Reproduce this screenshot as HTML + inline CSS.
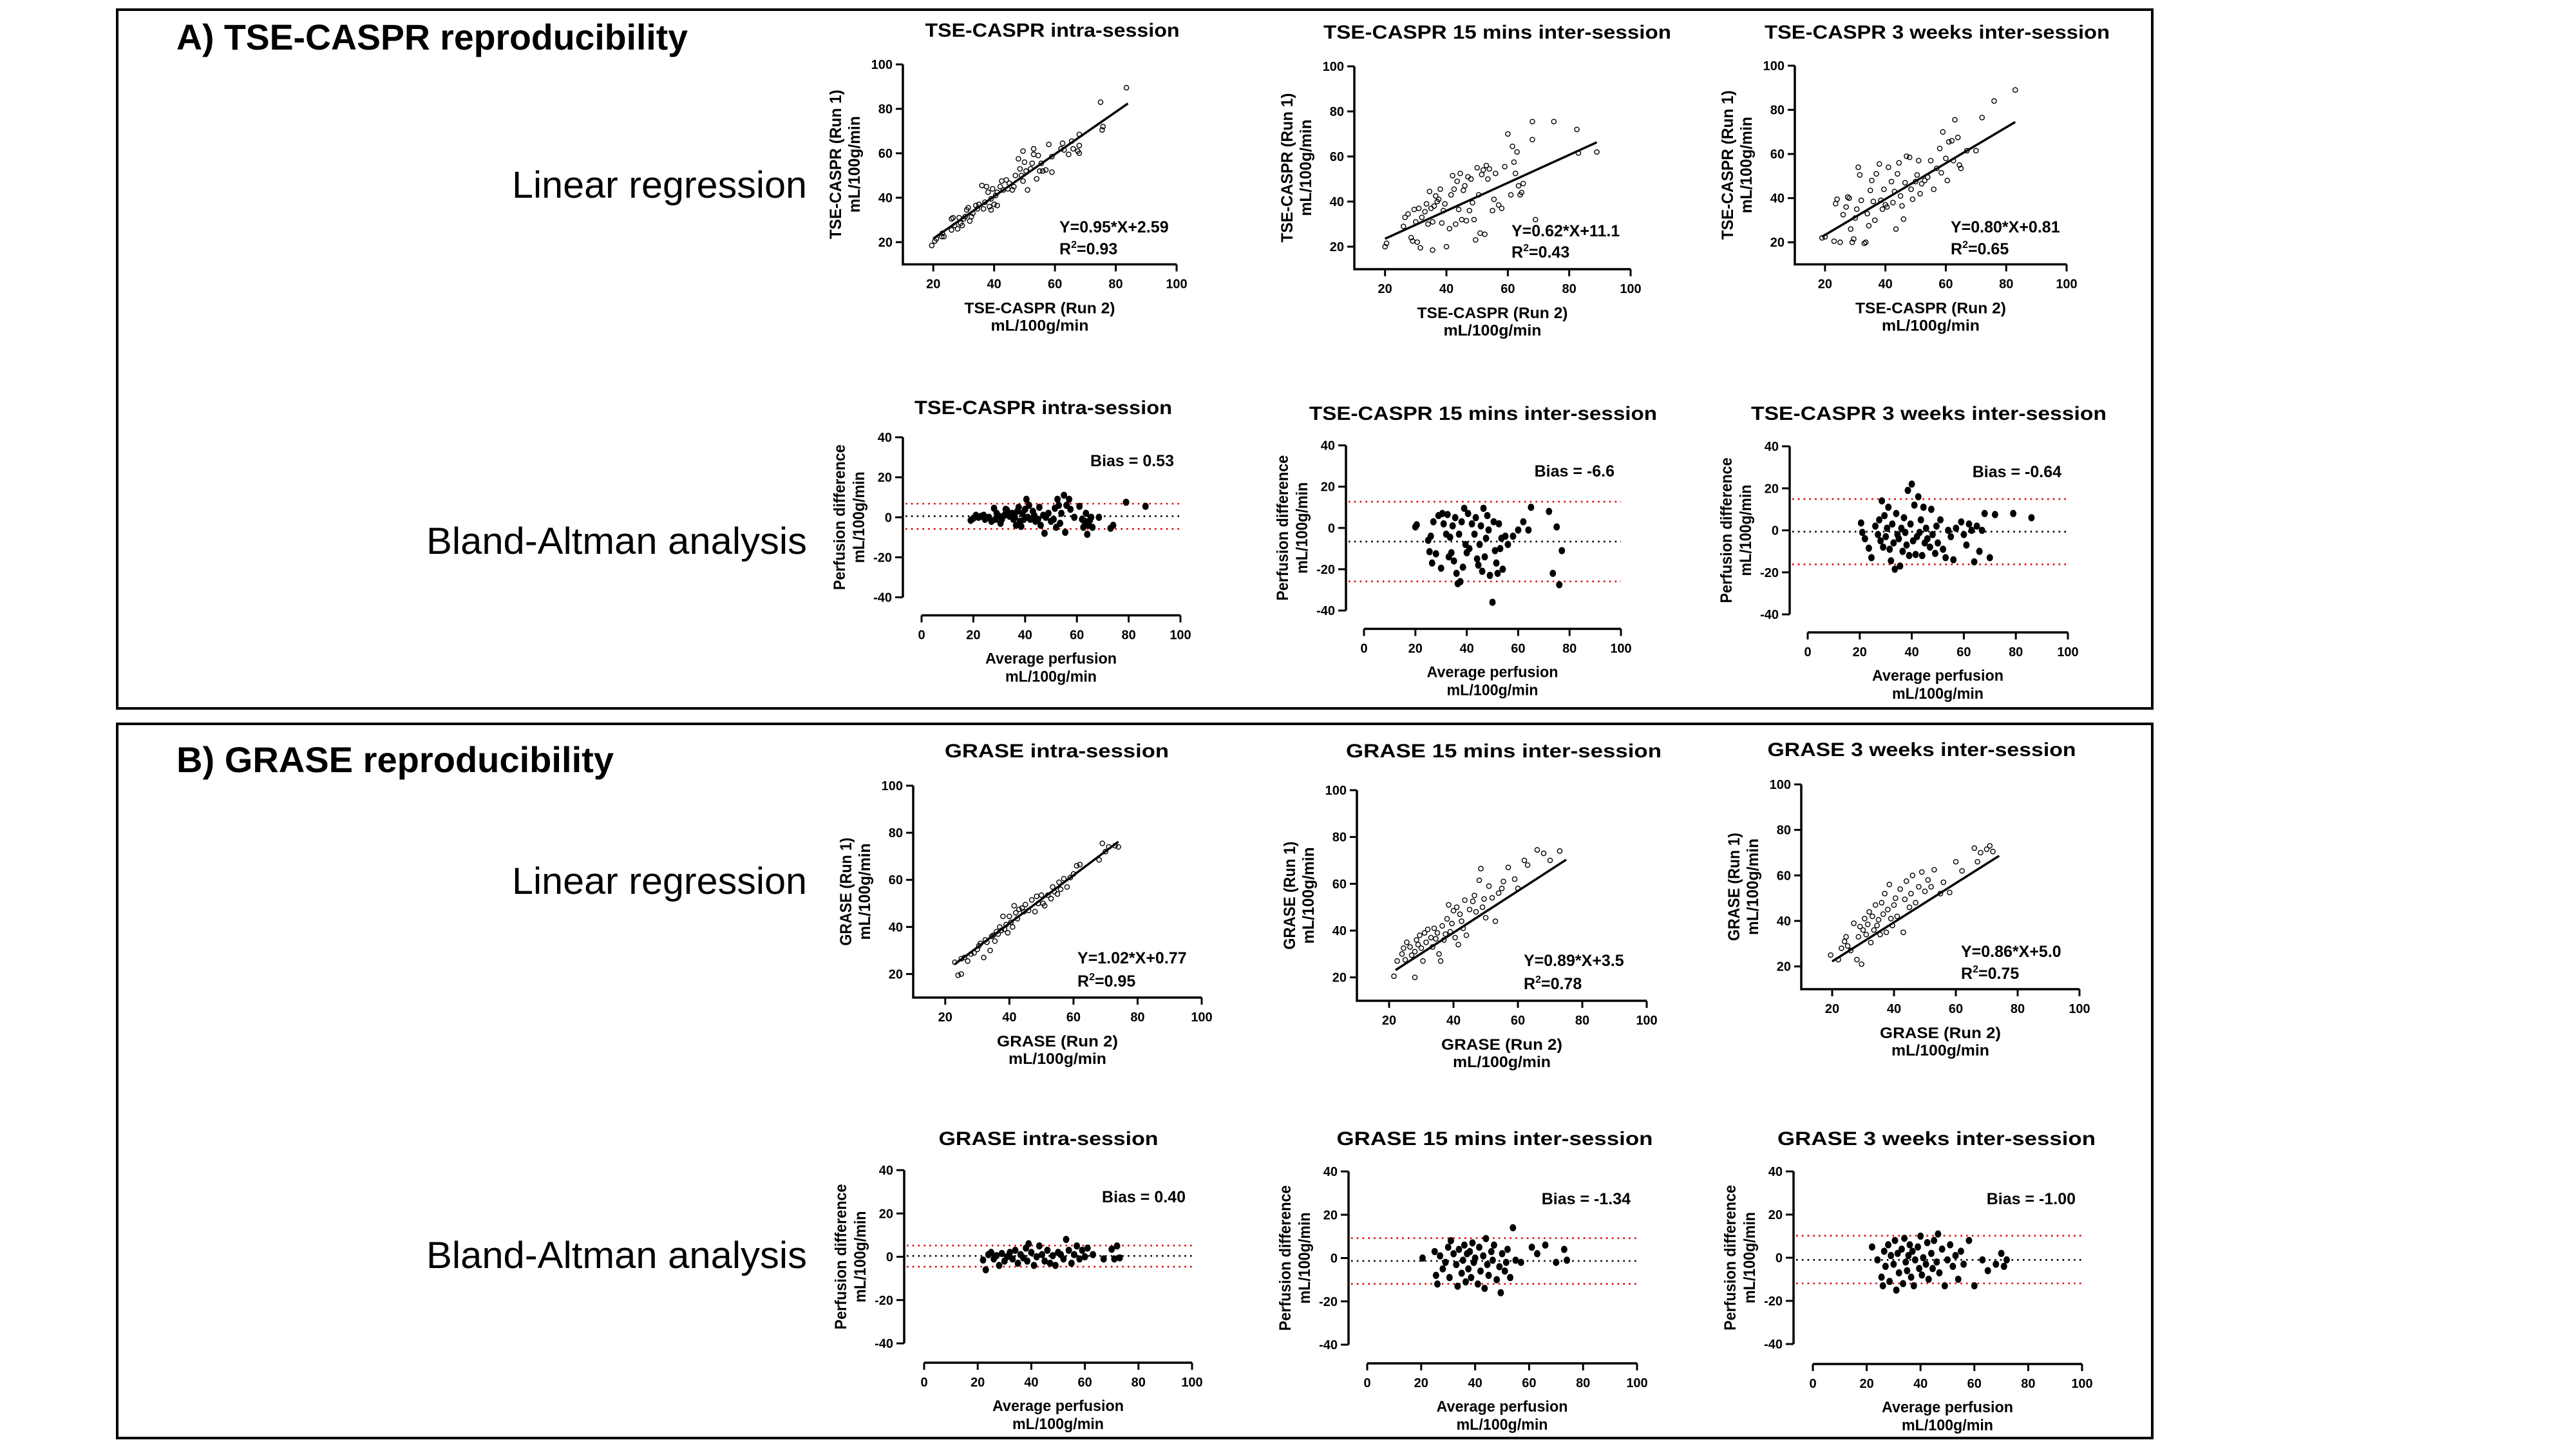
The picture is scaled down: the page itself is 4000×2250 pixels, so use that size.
<!DOCTYPE html>
<html>
<head>
<meta charset="utf-8">
<style>
html,body{margin:0;padding:0;background:#fff;}
svg{display:block;}
text{font-family:"Liberation Sans",Arial,sans-serif;}
</style>
</head>
<body>
<svg id="fig" width="4000" height="2250" viewBox="0 0 4000 2250" xmlns="http://www.w3.org/2000/svg">
<rect x="0" y="0" width="4000" height="2250" fill="#fff"/>
<rect x="182" y="15" width="3160" height="1085" fill="none" stroke="#000" stroke-width="4"/>
<rect x="182" y="1124" width="3160" height="1109" fill="none" stroke="#000" stroke-width="4"/>
<text x="274" y="77" font-size="56" font-weight="bold" textLength="794" lengthAdjust="spacingAndGlyphs">A) TSE-CASPR reproducibility</text>
<text x="274" y="1199" font-size="56" font-weight="bold" textLength="679" lengthAdjust="spacingAndGlyphs">B) GRASE reproducibility</text>
<text x="1253" y="307" font-size="58" text-anchor="end" textLength="458" lengthAdjust="spacingAndGlyphs">Linear regression</text>
<text x="1253" y="860" font-size="58" text-anchor="end" textLength="591" lengthAdjust="spacingAndGlyphs">Bland-Altman analysis</text>
<text x="1253" y="1388" font-size="58" text-anchor="end" textLength="458" lengthAdjust="spacingAndGlyphs">Linear regression</text>
<text x="1253" y="1969" font-size="58" text-anchor="end" textLength="591" lengthAdjust="spacingAndGlyphs">Bland-Altman analysis</text>
</svg>
<script>
// ---------- DATA ----------
const scatterTicks = [20,40,60,80,100];
const baYTicks = [-40,-20,0,20,40];
const baXTicks = [0,20,40,60,80,100];
const regSlopeLabel = ["0.95","0.62","0.80","1.02","0.89","0.86"];
const regInterceptLabel = ["2.59","11.1","0.81","0.77","3.5","5.0"];
const r2Label = ["0.93","0.43","0.65","0.95","0.78","0.75"];
const regXRange = [[20,84],[20,89],[19,83],[23,74],[22,75],[20,74]];
const regLineStartY = [21.6,23.5,22.5,24.2,23.1,22.2];
const regLineEndY = [82.4,66.3,74.5,76.2,70.3,68.6];
const biasVals = [0.53,-6.6,-0.64,0.40,-1.34,-1.00];
const biasLabel = ["0.53","-6.6","-0.64","0.40","-1.34","-1.00"];
const loaUpper = [6.8,12.7,14.9,5.2,9.2,10.2];
const loaLower = [-5.8,-25.9,-16.2,-4.6,-11.9,-11.9];

const a1x=[19.5,20.5,21,22.8,23,23.5,26,26.5,26,27,28,28.5,29,29.5,30,30.5,31,31.5,32,32.5,33,34,34.5,35,36,36.5,37,37.5,38,38.5,39,39,39.5,40,40.5,41,41,42,42.5,43,44,44.5,45,46,46.5,47,48,48.5,49,49.5,49.5,50,50.5,51,52,52.5,53,53,54,54.5,55,55.5,56,57,58,59,59,62,62.5,63,64.5,65.5,66,67.5,68,68,68,75,75.5,75.8,83.5];
const a1y=[18.5,20.5,21.5,22.5,24,22.5,30.5,31,25.5,27.5,26,31,28.5,27.5,30.5,31.5,34.5,35.5,29.5,31.5,33,36.5,35,37,45.5,35,38,45,42.5,36,34.5,39.5,44,37,41,42.5,36.5,45,47.5,43.5,48,44,46.5,43.5,45,50,57.5,53,50,47.5,61,56,52,43.5,53,55.5,62,59.5,48.5,59,52,55.5,52,52.5,64,51.5,58.5,62,64.5,61.5,59.5,65.5,62,61,60,68.5,63.5,83,70.5,72,89.5];
const a2x=[20,20.5,26,26.5,27.5,28.5,29,29.5,30,30.5,31,31.5,32,33,33.5,34,34.5,35,35.5,35.5,36,36.5,37,37.5,38,38.5,39,39.5,40,41,41.5,42,42.5,43,43.5,44,44.5,45,45.5,46,46.5,47,47.5,48,48.5,49,49.5,50,50.5,51,51.5,52,52.5,53,53.5,54,55,55.5,56,57,58,59,60,61,61.5,62,62.5,63,63.5,64,64.5,65,68,68,69,75,82.5,83,89];
const a2y=[20,21.5,29,33,34.5,24,22.5,36.5,31,22,37,19.5,33,35.5,39,30,44.5,37,31,18.5,38,42.5,40,41,45.5,30.5,36,39,20,28,43,51.5,45.5,30,49,36.5,52.5,32,45,47,31.5,51,36,50,39.5,32,23,55,43,26,52,54,25.5,56,50,54.5,36,41,52.5,38.5,37,55.5,70,43,64.5,57.5,52.5,62,47,43,44,48,75.5,67.5,32,75.5,72,61.5,62];
const a3x=[19,20,23,23.5,24,25,26,27,27.5,28,28.5,29,29.5,30,30.5,31,31.5,32,33,33.5,34,34.5,35,35.5,36,36.5,37,38,38.5,39,39.5,40,40.5,41,42,42.5,43,43.5,44,44.5,45,45.5,46,46.5,47,48,48.5,49,50,50.5,51,51.5,52,53,54,55,56,57,58,58.5,59,60,60.5,61,62,62.5,63,64,64.5,65,67,70,72,76,83];
const a3y=[22,22.5,20.5,37.5,39.5,20,32.5,36,40.5,40,26,20,21.5,31,35,54,50.5,39,19.5,20,33,27.5,43.5,48,38.5,30,51,55.5,39,35,44,37,36,54,47.5,38,43,26,51,56,41,36.5,30.5,47,59,58.5,44,39.5,47.5,50.5,57,42,46.5,48,49.5,57,44,53.5,62.5,51.5,70,58,48,65.5,66,57,75.5,67.5,55,53.5,61.5,61.5,76.5,84,89];
const b1x=[23,24,25,25,26,27,28,29,30,30.5,31,32,32.5,33,34,34.5,35,35.5,36,36.5,37,37.5,38,38.5,39,39.5,40,40.5,41,41.5,42,42.5,43,44,44.5,45,46,47,48,48.5,49,50,50.5,51,52,53,53.5,54,55,55.5,56,57,58,59,60,61,62,68,69,70,71,73,74];
const b1y=[25,19.5,20,26.5,27,25.5,28.5,29,30.5,32,33,27,34.5,33.5,30,36,36.5,34,38,37,40,38.5,44.5,39,41,37.5,44.5,42,40,49,46,43.5,47.5,48,46.5,49.5,47,51.5,46.5,53,50,53.5,50,49,53.5,52,57,55,54,59,56,60.5,57,61,62.5,66,66.5,68.5,75.5,72,74,74.5,74];
const b2x=[21.5,22.5,24,24.5,25,25.5,26.5,27,28,28,28.5,29,29.5,30,30.5,31,31.5,32,33,33.5,34,34.5,35,35.5,36,36.5,37,37.5,38,38.5,39,39.5,40,40.5,41,41.5,42,42.5,43,43.5,44,45,46,46.5,47,48,48.5,49,49.5,50,51,52,53,54,55,55.5,57,59,60,62,63,66,68,70,73];
const b2y=[20.5,27,30,32.5,27.5,35,33,29.5,31,20,36,34,38,32.5,27,39,35,40.5,37,33,41,36.5,39,30,27,42,36,38.5,45,51,39.5,43,48.5,37,50,34,47,44,41,53,38,49,52.5,55,48,61.5,66.5,50,53.5,45.5,59,54,44,56,58,61,67,62,58,70,68,74.5,73,70,74];
const b3x=[19.5,22,23,24,24.5,25,26,27,28,28.5,29,29.5,30,30.5,31,31.5,32,32.5,33,33.5,34,34.5,35,35.5,36,36.5,37,37.5,38,38.5,39,39.5,40,40.5,41,42,43,43.5,44,45,45.5,46,47,48,49,50,51,52,53,55,56,58,60,62,66,67,68,70,71,72];
const b3y=[25,23,28,31,33,29,27,39,23,33,37.5,21,36,41,34,38.5,44,30.5,42,36,47,38,40.5,34,48,43,52,35,45,56,41,38,47,50,42,54,35,49.5,57.5,46,52,60,48,55,61.5,53,58,55,62.5,52,57,52.5,66,62,72,66,70,71.5,73,70.5];

const ba1x=[19,20,21,22,23,24,24.5,26,27,28,28.5,29,30,30.5,31,32,32.5,33,34,35,35.5,36,36.5,37,37.5,38,38.5,39,39.5,40,40.5,41,41.5,42,43,43.5,44,45,45.5,46,47,47.5,48,49,50,51,51.5,52,52.5,53,53.5,54,55,55.5,56,57,57.5,59,61,62,62.5,63,63.5,64,64.5,65,65.5,66,68.5,73,74,79,86.5];
const ba1y=[-1.5,-0.5,1,0,0.5,1,-1,0,-2,4.5,-1,2,0.5,-3,-1,1,4,3.5,0.5,2,-1,0,-4,3,5,-2,-4.5,2,-1,4,9,0,6,-1,3,1,-2,-1,5,-4,1,-8,0,2,-2,-1,4.5,-5,9,6,-3,2,11,-7.5,6,9,4,0,5.5,-1,-5,-2,2,-8.5,-4,-1.5,0,-5,0,-5.5,-4,7.5,5.5];
const ba2x=[20,20.5,25,25.5,26,26.5,27,28,29,30,30.5,31,32,32.5,33,33.5,34,34.5,35,35.5,36,36.5,37,37.5,38,38.5,39,39.5,40,40.5,41,42,43,43.5,44,44.5,45,45.5,46,46.5,47,47.5,48,48.5,49,50,50.5,51,51.5,52,52.5,53,53.5,54,55,56,58,60,62,64,65,72,73.5,75,76,77];
const ba2y=[0.5,1.5,-6,-11.5,-4,-17,3,-12.5,6,-19.5,7,2,-3,6.5,-14,-4.5,-12,1,-16,5,-22,-27,-3,-26,3,-19,9.5,-8,-12,7,-10,2,-3,5,-15,-18,-8,1,-21,9.5,-14,-5,6,-1,-23,-36,3,-11,-17,-22,2,-10,-5,-20,-4,-8,-4,-1,3,-1,10,8,-22,0.5,-27.5,-11];
const ba3x=[20.5,21,22,23.5,24.5,26,27,27.5,28,28.5,29,29.5,30,30.5,31,31.5,32,32.5,33,33.5,34,34.5,35,35.5,36,36.5,37,37.5,38,38.5,39,39.5,40,40.5,41,41.5,42,42.5,43,43.5,44,44.5,45,45.5,46,47,47.5,48,49,49.5,50,51,52,53,54,55,56,57,59,60,61,62,63,64,65,66,67,68,70,72,79,86];
const ba3y=[3.5,-1,-4,-8.5,-13,2,-2,5,-5,14,-8,7,-3,1,11,-9,-14.5,3,-6,-18.5,8,-2,-4,-17,1,-10,6,-1,-7,19,-12,3,22,-5,12,-11.5,-3,16,-1,5,-12,11,-6,1,-4,-8,10,-2,-11,2,-6,5,-9,-13,0,-3,-14,1,4,-2,-7,3,0,-15,2,-10,0,8,-13,7.5,8,6];
const bb1x=[22,23,24,25,26,27,28,29,30,31,32,33,34,35,36,37,38,38.5,39,40,41,42,43,44,45,46,47,48,49,50,51,52,53,54,55,56,57,58,59,60,61,63,67,70,71,72,73];
const bb1y=[-1.5,-6,1,2,-1,0.5,-4,1.5,-2,0,2,-1,3,-3,1,-0.5,4,-2,6,2,-4,0,5,1,-2,3,-3,0.5,-4,2,1,-1,8,3,-3,1,5,-1,3,0,4,1,-1,3.5,-1,5,-0.5];
const bb2x=[20.5,25,25.5,26,27,28,29,30,30.5,31,32,33,33.5,34,35,35.5,36,36.5,37,37.5,38,38.5,39,39.5,40,41,41.5,42,43,43.5,44,44.5,45,46,46.5,47,48,49,49.5,50,51,51.5,52,53,54,55,57,61,63,66,70,73,74];
const bb2y=[0,3,-8,-12,1,-5,-2,5,-9,8,2,-3,-13,4,-7,-1,6,-11,2,-5,3,-9,7,-2,0,-12,5,-6,1,-14,9,-3,-8,3,-1,6,-10,-4,-16,2,-6,-2,4,-9,14,-1,-2,5,2,6,-2,4,-1];
const bb3x=[22,24,25.5,26,26.5,27,28,28.5,29,30,30.5,31,31.5,32,33,33.5,34,34.5,35,35.5,36,36.5,37,37.5,38,39,39.5,40,40.5,41,42,42.5,43,44,44.5,45,46,46.5,47,48,49,50,51,52,53,54,55,56,58,60,63,65,68,70,71,72];
const bb3y=[5,-1,-9,-13,3,-4,6,-11,1,-3,8,-15,2,-7,4,-12,9,-2,-6,1,6,-9,3,-13,-1,5,-5,10,-8,0,-3,7,-10,2,-5,8,-2,11,-7,4,-13,-1,6,-4,1,-10,3,-3,8,-13,-1,-6,-3,2,-4,-1];

// ---------- LAYOUT ----------
const NS = "http://www.w3.org/2000/svg";
const svg = document.getElementById('fig');
function el(tag, attrs, parent){
  const e = document.createElementNS(NS, tag);
  for (const k in attrs) e.setAttribute(k, attrs[k]);
  (parent||svg).appendChild(e);
  return e;
}
function txt(parent, s, attrs){
  const t = el('text', attrs, parent);
  t.textContent = s;
  return t;
}

const scatterPanels = [
 {key:'a1',xs:a1x,ys:a1y,X0:1402,X1:1827,YB:410.5,YT:100,title:'TSE-CASPR intra-session',tx:1634,ty:57,tw:395,ylab:'TSE-CASPR (Run 1)',xlab:'TSE-CASPR (Run 2)',ex:1645,ey:361,ey2:395},
 {key:'a2',xs:a2x,ys:a2y,X0:2103,X1:2532,YB:418,YT:103,title:'TSE-CASPR 15 mins inter-session',tx:2325,ty:60,tw:540,ylab:'TSE-CASPR (Run 1)',xlab:'TSE-CASPR (Run 2)',ex:2347,ey:367,ey2:400},
 {key:'a3',xs:a3x,ys:a3y,X0:2787,X1:3209,YB:410.5,YT:102,title:'TSE-CASPR 3 weeks inter-session',tx:3008,ty:60,tw:536,ylab:'TSE-CASPR (Run 1)',xlab:'TSE-CASPR (Run 2)',ex:3029,ey:361,ey2:395},
 {key:'b1',xs:b1x,ys:b1y,X0:1418,X1:1866,YB:1549,YT:1220,title:'GRASE intra-session',tx:1641,ty:1176,tw:348,ylab:'GRASE (Run 1)',xlab:'GRASE (Run 2)',ex:1673,ey:1496,ey2:1532},
 {key:'b2',xs:b2x,ys:b2y,X0:2107,X1:2557,YB:1554,YT:1227,title:'GRASE 15 mins inter-session',tx:2335,ty:1176,tw:490,ylab:'GRASE (Run 1)',xlab:'GRASE (Run 2)',ex:2366,ey:1500,ey2:1536},
 {key:'b3',xs:b3x,ys:b3y,X0:2797,X1:3229,YB:1536,YT:1218,title:'GRASE 3 weeks inter-session',tx:2984,ty:1174,tw:479,ylab:'GRASE (Run 1)',xlab:'GRASE (Run 2)',ex:3045,ey:1486,ey2:1520}
];
const baPanels = [
 {key:'a1',xs:ba1x,ys:ba1y,YA:1402,Y40:679,Ym40:927.5,XA:955.5,x0:1431,x100:1833,title:'TSE-CASPR intra-session',tx:1620,ty:643,tw:400,by:724},
 {key:'a2',xs:ba2x,ys:ba2y,YA:2090,Y40:691.6,Ym40:948,XA:976.5,x0:2118,x100:2517,title:'TSE-CASPR 15 mins inter-session',tx:2303,ty:652,tw:540,by:740},
 {key:'a3',xs:ba3x,ys:ba3y,YA:2779,Y40:693,Ym40:954,XA:982,x0:2807,x100:3211,title:'TSE-CASPR 3 weeks inter-session',tx:2995,ty:652,tw:552,by:741},
 {key:'b1',xs:bb1x,ys:bb1y,YA:1404,Y40:1817,Ym40:2086,XA:2116,x0:1435,x100:1851,title:'GRASE intra-session',tx:1628,ty:1778,tw:341,by:1867},
 {key:'b2',xs:bb2x,ys:bb2y,YA:2094,Y40:1819,Ym40:2088,XA:2117,x0:2123,x100:2542,title:'GRASE 15 mins inter-session',tx:2321,ty:1778,tw:491,by:1870},
 {key:'b3',xs:bb3x,ys:bb3y,YA:2785,Y40:1819,Ym40:2087,XA:2118,x0:2815,x100:3233,title:'GRASE 3 weeks inter-session',tx:3007,ty:1778,tw:494,by:1870}
];

scatterPanels.forEach((p, i) => {
  const g = el('g', {});
  
  
  const sx = v => p.X0 + (v - 10) / 90 * (p.X1 - p.X0);
  const sy = v => p.YB - (v - 10) / 90 * (p.YB - p.YT);
  const t = txt(g, p.title, {x:p.tx, y:p.ty, 'font-size':30, 'font-weight':'bold', 'text-anchor':'middle', textLength:p.tw, lengthAdjust:'spacingAndGlyphs'});
  
  
  const ax = el('path', {d:`M${p.X0},${sy(100)} L${p.X0},${p.YB} L${p.X1},${p.YB}`, fill:'none', stroke:'#000', 'stroke-width':3.5}, g);
  
  
  scatterTicks.forEach(v => {
    const ty = sy(v), tx = sx(v);
    el('line', {x1:p.X0-11, y1:ty, x2:p.X0, y2:ty, stroke:'#000', 'stroke-width':3}, g);
    const yl = txt(g, String(v), {x:p.X0-16, y:ty+7, 'font-size':20, 'font-weight':'bold', 'text-anchor':'end'});
    
    
    el('line', {x1:tx, y1:p.YB, x2:tx, y2:p.YB+11, stroke:'#000', 'stroke-width':3}, g);
    const xl = txt(g, String(v), {x:tx, y:p.YB+37, 'font-size':20, 'font-weight':'bold', 'text-anchor':'middle'});
    
    
  });
  const cy = (p.YB + sy(100)) / 2;
  const y1 = txt(g, p.ylab, {x:0, y:0, 'font-size':25, 'font-weight':'bold', 'text-anchor':'middle', transform:`translate(${p.X0-96},${cy}) rotate(-90)`, textLength: p.ylab.length > 14 ? 232 : 168, lengthAdjust:'spacingAndGlyphs'});
  
  
  const y2 = txt(g, 'mL/100g/min', {x:0, y:0, 'font-size':25, 'font-weight':'bold', 'text-anchor':'middle', transform:`translate(${p.X0-67},${cy}) rotate(-90)`, textLength:150, lengthAdjust:'spacingAndGlyphs'});
  
  
  const xc = (p.X0 + p.X1) / 2;
  const x1t = txt(g, p.xlab, {x:xc, y:p.YB+76, 'font-size':24, 'font-weight':'bold', 'text-anchor':'middle', textLength: p.xlab.length > 14 ? 234 : 188, lengthAdjust:'spacingAndGlyphs'});
  
  
  const x2t = txt(g, 'mL/100g/min', {x:xc, y:p.YB+103, 'font-size':24, 'font-weight':'bold', 'text-anchor':'middle', textLength:152, lengthAdjust:'spacingAndGlyphs'});
  
  
  p.xs.forEach((xv, j) => {
    const c = el('circle', {cx:sx(xv), cy:sy(p.ys[j]), r:3.6, fill:'none', stroke:'#000', 'stroke-width':1.4}, g);
    
    
  });
  const [lo, hi] = regXRange[i];
  const rl = el('line', {x1:sx(lo), y1:sy(regLineStartY[i]), x2:sx(hi), y2:sy(regLineEndY[i]), stroke:'#000', 'stroke-width':3.5}, g);
  
  
  const eq = txt(g, 'Y=' + regSlopeLabel[i] + '*X+' + regInterceptLabel[i], {x:p.ex, y:p.ey, 'font-size':25, 'font-weight':'bold'});
  
  
  const r2 = el('text', {x:p.ex, y:p.ey2, 'font-size':25, 'font-weight':'bold'}, g);
  
  
  const ts1 = el('tspan', {}, r2); ts1.textContent = 'R';
  const ts2 = el('tspan', {'font-size':16, dy:-10}, r2); ts2.textContent = '2';
  const ts3 = el('tspan', {dy:10}, r2); ts3.textContent = '=' + r2Label[i];
});

baPanels.forEach((p, i) => {
  const g = el('g', {});
  
  
  const sy = v => p.Y40 + (40 - v) / 80 * (p.Ym40 - p.Y40);
  const sx = v => p.x0 + v / 100 * (p.x100 - p.x0);
  const t = txt(g, p.title, {x:p.tx, y:p.ty, 'font-size':30, 'font-weight':'bold', 'text-anchor':'middle', textLength:p.tw, lengthAdjust:'spacingAndGlyphs'});
  
  
  const ya = el('line', {x1:p.YA, y1:p.Y40, x2:p.YA, y2:p.Ym40, stroke:'#000', 'stroke-width':3.5}, g);
  
  
  const xa = el('line', {x1:p.x0, y1:p.XA, x2:p.x100, y2:p.XA, stroke:'#000', 'stroke-width':3.5}, g);
  
  
  baYTicks.forEach(v => {
    const ty = sy(v);
    el('line', {x1:p.YA-12, y1:ty, x2:p.YA, y2:ty, stroke:'#000', 'stroke-width':3}, g);
    const yl = txt(g, String(v), {x:p.YA-17, y:ty+7, 'font-size':20, 'font-weight':'bold', 'text-anchor':'end'});
    
    
  });
  baXTicks.forEach(v => {
    const tx = sx(v);
    el('line', {x1:tx, y1:p.XA, x2:tx, y2:p.XA+11, stroke:'#000', 'stroke-width':3}, g);
    const xl = txt(g, String(v), {x:tx, y:p.XA+37, 'font-size':20, 'font-weight':'bold', 'text-anchor':'middle'});
    
    
  });
  const lines = [[loaUpper[i], '#e00000', 'upper-limit-line'], [biasVals[i], '#000', 'bias-line'], [loaLower[i], '#e00000', 'lower-limit-line']];
  lines.forEach(([v, col, nm]) => {
    const l = el('line', {x1:p.YA+4, y1:sy(v), x2:p.x100, y2:sy(v), stroke:col, 'stroke-width':2.6, 'stroke-dasharray':'2.6 6.2'}, g);
    
    
  });
  p.xs.forEach((xv, j) => {
    const c = el('ellipse', {cx:sx(xv), cy:sy(p.ys[j]), rx:5, ry:5.6, fill:'#000'}, g);
    
    
  });
  const b = txt(g, 'Bias = ' + biasLabel[i], {x:p.x100 - 10, y:p.by, 'font-size':25, 'font-weight':'bold', 'text-anchor':'end'});
  
  
  const cy = (p.Y40 + p.Ym40) / 2;
  const y1 = txt(g, 'Perfusion difference', {x:0, y:0, 'font-size':25, 'font-weight':'bold', 'text-anchor':'middle', transform:`translate(${p.YA-90},${cy}) rotate(-90)`, textLength:226, lengthAdjust:'spacingAndGlyphs'});
  
  
  const y2 = txt(g, 'mL/100g/min', {x:0, y:0, 'font-size':25, 'font-weight':'bold', 'text-anchor':'middle', transform:`translate(${p.YA-60},${cy}) rotate(-90)`, textLength:142, lengthAdjust:'spacingAndGlyphs'});
  
  
  const xc = (p.x0 + p.x100) / 2;
  const x1t = txt(g, 'Average perfusion', {x:xc, y:p.XA+75, 'font-size':24, 'font-weight':'bold', 'text-anchor':'middle', textLength:204, lengthAdjust:'spacingAndGlyphs'});
  
  
  const x2t = txt(g, 'mL/100g/min', {x:xc, y:p.XA+103, 'font-size':24, 'font-weight':'bold', 'text-anchor':'middle', textLength:142, lengthAdjust:'spacingAndGlyphs'});
  
  
});
</script>
</body>
</html>
